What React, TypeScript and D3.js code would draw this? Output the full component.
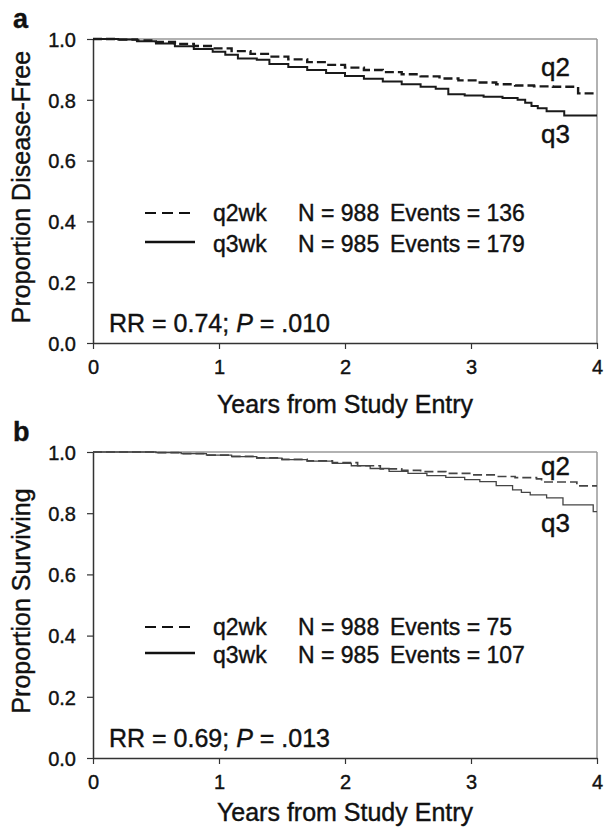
import { useEffect, useRef } from "react";
import * as d3 from "d3";

// x / y ticks
const yearTicks = [0, 1, 2, 3, 4];
const propTicks = [0, 0.2, 0.4, 0.6, 0.8, 1.0];

// panel a: disease-free survival
const dfsQ2Time = [0, 0.2, 0.35, 0.5, 0.65, 0.8, 0.95, 1.1, 1.25, 1.4, 1.55, 1.7, 1.85, 2.0, 2.15, 2.3, 2.45, 2.6, 2.75, 2.9, 3.05, 3.2, 3.35, 3.5, 3.65, 3.85, 4.0];
const dfsQ2Surv = [1.0, 0.998, 0.995, 0.99, 0.984, 0.977, 0.969, 0.96, 0.951, 0.942, 0.933, 0.924, 0.915, 0.906, 0.898, 0.891, 0.884, 0.877, 0.87, 0.864, 0.857, 0.851, 0.847, 0.844, 0.843, 0.821, 0.821];
const dfsQ3Time = [0, 0.2, 0.35, 0.5, 0.65, 0.8, 0.95, 1.05, 1.15, 1.3, 1.4, 1.55, 1.7, 1.85, 2.0, 2.15, 2.3, 2.45, 2.6, 2.72, 2.82, 2.95, 3.1, 3.25, 3.37, 3.43, 3.48, 3.53, 3.6, 3.74, 4.0];
const dfsQ3Surv = [1.0, 0.998, 0.993, 0.985, 0.976, 0.967, 0.958, 0.948, 0.936, 0.932, 0.918, 0.908, 0.898, 0.888, 0.878, 0.869, 0.86, 0.851, 0.843, 0.836, 0.818, 0.814, 0.81, 0.806, 0.8, 0.79, 0.78, 0.772, 0.762, 0.748, 0.748];

// panel b: overall survival
const osQ2Time = [0, 0.3, 0.5, 0.7, 0.9, 1.1, 1.3, 1.5, 1.7, 1.9, 2.1, 2.28, 2.45, 2.6, 2.8, 3.0, 3.2, 3.35, 3.52, 3.56, 3.84, 4.0];
const osQ2Surv = [1.0, 1.0, 0.998, 0.995, 0.99, 0.986, 0.981, 0.976, 0.971, 0.965, 0.955, 0.945, 0.94, 0.936, 0.93, 0.925, 0.92, 0.916, 0.912, 0.902, 0.889, 0.889];
const osQ3Time = [0, 0.3, 0.5, 0.7, 0.9, 1.1, 1.3, 1.5, 1.7, 1.9, 2.05, 2.2, 2.35, 2.5, 2.65, 2.8, 2.95, 3.07, 3.2, 3.33, 3.4, 3.47, 3.6, 3.73, 3.97, 4.0];
const osQ3Surv = [1.0, 1.0, 0.998, 0.995, 0.99, 0.985, 0.98, 0.975, 0.97, 0.963, 0.955, 0.946, 0.937, 0.93, 0.923, 0.917, 0.91, 0.903, 0.89, 0.876, 0.868, 0.86, 0.85, 0.827, 0.805, 0.805];

const legendArms = ["q2wk", "q3wk"];
const legendN = ["N = 988", "N = 985"];
const dfsEvents = ["Events = 136", "Events = 179"];
const osEvents = ["Events = 75", "Events = 107"];

const font = "'Liberation Sans', Arial, sans-serif";

function drawPanel(svg, opts) {
  const { top, bottom, letter, yTitle, q2, q3, events, rr, p, lineColor, lineWidth, qLab, legY, titleY } = opts;
  const x = d3.scaleLinear().domain([0, 4]).range([93, 597]);
  const y = d3.scaleLinear().domain([0, 1]).range([bottom, top]);
  const g = svg.append("g");

  // box (top / right in grey)
  g.append("line").attr("x1", x(0)).attr("x2", x(4)).attr("y1", y(1)).attr("y2", y(1))
    .attr("stroke", "#999").attr("stroke-width", 1.5);
  g.append("line").attr("x1", x(4)).attr("x2", x(4)).attr("y1", y(1)).attr("y2", y(0))
    .attr("stroke", "#999").attr("stroke-width", 1.5);

  const xAxis = d3.axisBottom(x).tickValues(yearTicks).tickFormat(d3.format("d")).tickSize(6).tickSizeOuter(0);
  const yAxis = d3.axisLeft(y).tickValues(propTicks).tickFormat(d3.format(".1f")).tickSize(6).tickSizeOuter(0);

  const gx = g.append("g").attr("transform", `translate(0,${bottom})`).call(xAxis);
  const gy = g.append("g").attr("transform", `translate(${x(0)},0)`).call(yAxis);
  [gx, gy].forEach((a) => {
    a.select(".domain").attr("stroke", "#333").attr("stroke-width", 1.5);
    a.selectAll(".tick line").attr("stroke", "#333").attr("stroke-width", 1.2);
    a.selectAll("text").attr("font-family", font).attr("font-size", 20).attr("fill", "#111")
      .attr("stroke", "#111").attr("stroke-width", 0.4);
  });
  gx.selectAll("text").attr("dy", "1.1em");
  gy.selectAll("text").attr("x", -17).attr("dy", "0.36em");

  const line = d3.line().x((d) => x(d[0])).y((d) => y(d[1])).curve(d3.curveStepAfter);
  const q2pts = q2[0].map((t, i) => [t, q2[1][i]]);
  const q3pts = q3[0].map((t, i) => [t, q3[1][i]]);
  g.append("path").attr("d", line(q3pts)).attr("fill", "none")
    .attr("stroke", lineColor).attr("stroke-width", lineWidth);
  g.append("path").attr("d", line(q2pts)).attr("fill", "none")
    .attr("stroke", lineColor).attr("stroke-width", lineWidth + 0.4).attr("stroke-dasharray", "9,4");

  const txt = (tx, ty, s, size, extra) => {
    const t = g.append("text").attr("x", tx).attr("y", ty).attr("font-family", font)
      .attr("font-size", size).attr("fill", "#111").attr("stroke", "#111").attr("stroke-width", 0.4).text(s);
    if (extra) extra(t);
    return t;
  };

  // curve labels
  txt(541, top + qLab[0], "q2", 26);
  txt(541, top + qLab[1], "q3", 26);

  // legend
  g.append("line").attr("x1", 145).attr("x2", 192).attr("y1", legY[0] - 8).attr("y2", legY[0] - 8)
    .attr("stroke", "#111").attr("stroke-width", 2).attr("stroke-dasharray", "11,6");
  g.append("line").attr("x1", 145).attr("x2", 195).attr("y1", legY[1] - 10).attr("y2", legY[1] - 10)
    .attr("stroke", "#111").attr("stroke-width", 2.5);
  legendArms.forEach((arm, i) => {
    txt(213, legY[i], arm, 23);
    txt(298, legY[i], legendN[i], 23);
    txt(390, legY[i], events[i], 23);
  });

  // RR / P
  const r = txt(109, bottom - 11, "", 25);
  r.append("tspan").text(`RR = ${rr}; `);
  r.append("tspan").attr("font-style", "italic").text("P");
  r.append("tspan").text(` = ${p}`);

  // titles
  txt((x(0) + x(4)) / 2, titleY, "Years from Study Entry", 25, (t) => t.attr("text-anchor", "middle"));
  txt(0, 0, yTitle, 25, (t) =>
    t.attr("text-anchor", "middle").attr("transform", `translate(30,${(top + bottom) / 2 - 4}) rotate(-90)`));
  txt(13, top - 11, letter, 27, (t) => t.attr("font-weight", "bold"));
}

export default function App() {
  const svgRef = useRef(null);

  useEffect(() => {
    const svg = d3.select(svgRef.current);
    svg.selectAll("*").remove();
    drawPanel(svg, {
      top: 39, bottom: 343, letter: "a", yTitle: "Proportion Disease-Free",
      q2: [dfsQ2Time, dfsQ2Surv], q3: [dfsQ3Time, dfsQ3Surv], events: dfsEvents,
      rr: "0.74", p: ".010", lineColor: "#1a1a1a", lineWidth: 2,
      qLab: [37, 104], legY: [221, 252], titleY: 413,
    });
    drawPanel(svg, {
      top: 452, bottom: 758, letter: "b", yTitle: "Proportion Surviving",
      q2: [osQ2Time, osQ2Surv], q3: [osQ3Time, osQ3Surv], events: osEvents,
      rr: "0.69", p: ".013", lineColor: "#444", lineWidth: 1.3,
      qLab: [23, 80], legY: [635, 663], titleY: 821,
    });
  }, []);

  return (
    <svg ref={svgRef} width={606} height={827}
      style={{ position: "absolute", left: 0, top: 0, background: "#fff" }} />
  );
}
